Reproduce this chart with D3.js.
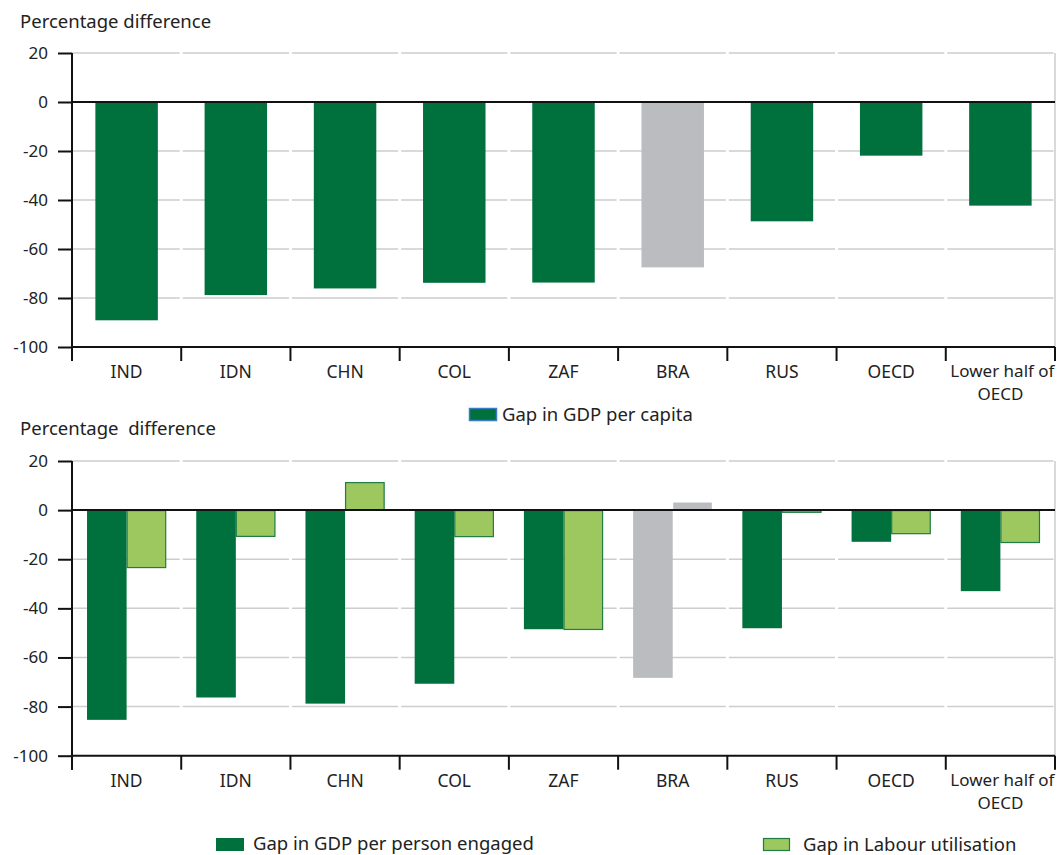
<!DOCTYPE html>
<html>
<head>
<meta charset="utf-8">
<script src="https://cdn.jsdelivr.net/npm/d3@7"></script>
<style>
  body { margin: 0; background: #fff; }
  svg { display: block; font-family: "Noto Sans", "Open Sans", sans-serif; }
</style>
</head>
<body>
<svg id="chart" width="1063" height="855"></svg>
<script>
// ---- Data ----
const categories = ["IND", "IDN", "CHN", "COL", "ZAF", "BRA", "RUS", "OECD", "Lower half of OECD"];
const highlighted = ["BRA"];
const gdpPerCapita = [-89.1, -78.8, -76.1, -73.8, -73.7, -67.5, -48.7, -21.9, -42.3];
const gdpPerPersonEngaged = [-85.4, -76.3, -78.8, -70.7, -48.5, -68.3, -48.1, -12.9, -33.0];
const labourUtilisation = [-23.6, -10.9, 11.4, -11.0, -48.8, 3.1, -1.1, -9.8, -13.4];
const yTicks = [20, 0, -20, -40, -60, -80, -100];
const yDomain = [-100, 20];
const yTitleTop = "Percentage difference";
const yTitleBottom = "Percentage\u00a0 difference";
const legendTop = ["Gap in GDP per capita"];
const legendBottom = ["Gap in GDP per person engaged", "Gap in Labour utilisation"];

// ---- Styles ----
const DARK = "#00703c", LIGHT = "#9dc75f", GRAY = "#bbbcc0", LIGHT_GRAY = "#bbbcc0";
const TXT = "#222";
const svg = d3.select("#chart");
const left = 72, right = 1055;

const x = d3.scaleBand().domain(categories).range([left, right]).padding(0);

function drawFrame(g, y) {
  yTicks.filter(t => t !== 0 && t !== yDomain[0]).forEach(t => {
    g.selectAll(null).data(categories).enter().append("line")
      .attr("x1", d => x(d) + (d === categories[0] ? 0 : 1.5))
      .attr("x2", d => x(d) + x.bandwidth() - 1.5)
      .attr("y1", y(t)).attr("y2", y(t))
      .attr("stroke", "#cdcdcd").attr("stroke-width", 1.5);
  });
  g.append("line").attr("x1", right).attr("x2", right)
    .attr("y1", y(yDomain[1])).attr("y2", y(yDomain[0]))
    .attr("stroke", "#cdcdcd").attr("stroke-width", 1.5);
}

function drawAxes(g, y) {
  g.append("line").attr("x1", left).attr("x2", right)
    .attr("y1", y(0)).attr("y2", y(0))
    .attr("stroke", "#111").attr("stroke-width", 2);
  const ya = g.append("g").attr("transform", `translate(${left},0)`)
    .call(d3.axisLeft(y).tickValues(yTicks).tickSize(14).tickPadding(10).tickFormat(d3.format("d")));
  ya.select(".domain").attr("stroke", "#111").attr("stroke-width", 2)
    .attr("d", `M0,${y(yDomain[1])}V${y(yDomain[0]) + 14}`);
  ya.selectAll(".tick line").attr("stroke", "#111").attr("stroke-width", 2);
  ya.selectAll(".tick text").attr("font-size", 17).attr("fill", TXT)
    .attr("font-family", "'Noto Sans', sans-serif").text(d => d < 0 ? "-" + Math.abs(d) : d);
  const yb = y(yDomain[0]);
  g.append("line").attr("x1", left).attr("x2", right).attr("y1", yb).attr("y2", yb)
    .attr("stroke", "#111").attr("stroke-width", 2);
  const bounds = categories.map(c => x(c)).concat([right]);
  g.selectAll(null).data(bounds).enter().append("line")
    .attr("x1", d => d).attr("x2", d => d).attr("y1", yb).attr("y2", yb + 14)
    .attr("stroke", "#111").attr("stroke-width", 2);
  categories.forEach(d => {
    const cx = x(d) + x.bandwidth() / 2;
    if (d === "Lower half of OECD") {
      g.append("text").attr("x", cx + 2).attr("y", yb + 30)
        .attr("text-anchor", "middle").attr("font-size", 17).attr("fill", TXT).text("Lower half of");
      g.append("text").attr("x", cx).attr("y", yb + 53)
        .attr("text-anchor", "middle").attr("font-size", 17).attr("fill", TXT).text("OECD");
    } else {
      g.append("text").attr("x", cx).attr("y", yb + 31)
        .attr("text-anchor", "middle").attr("font-size", 17.5).attr("fill", TXT).text(d);
    }
  });
}

// ---- Top panel ----
const yTop = d3.scaleLinear().domain(yDomain).range([347, 53]);
const gTop = svg.append("g");
svg.append("text").attr("x", 20).attr("y", 28).attr("font-size", 18.5).attr("fill", TXT).text(yTitleTop);
drawFrame(gTop, yTop);
const barW = x.bandwidth() * 0.572;
gTop.selectAll(".bar").data(categories.map((c, i) => ({c, v: gdpPerCapita[i]}))).enter().append("rect")
  .attr("x", d => x(d.c) + (x.bandwidth() - barW) / 2)
  .attr("width", barW)
  .attr("y", d => yTop(Math.max(0, d.v)))
  .attr("height", d => Math.abs(yTop(d.v) - yTop(0)))
  .attr("fill", d => highlighted.includes(d.c) ? GRAY : DARK);
drawAxes(gTop, yTop);

svg.append("rect").attr("x", 469.5).attr("y", 408.5).attr("width", 27).attr("height", 12)
  .attr("fill", DARK).attr("stroke", "#3b7dc4").attr("stroke-width", 1.5);
svg.append("text").attr("x", 502).attr("y", 421).attr("font-size", 18.5).attr("fill", TXT).text(legendTop[0]);

// ---- Bottom panel ----
const yBot = d3.scaleLinear().domain(yDomain).range([755.7, 461]);
const gBot = svg.append("g");
svg.append("text").attr("x", 20).attr("y", 435).attr("font-size", 18.5).attr("fill", TXT).text(yTitleBottom);
drawFrame(gBot, yBot);
const series = ["person", "labour"];
const groupW = x.bandwidth() * 0.725;
const x1 = d3.scaleBand().domain(series).range([0, groupW]).padding(0);
const rows = [];
categories.forEach((c, i) => {
  rows.push({c, s: "person", v: gdpPerPersonEngaged[i]});
  rows.push({c, s: "labour", v: labourUtilisation[i]});
});
gBot.selectAll(".bar").data(rows).enter().append("rect")
  .attr("x", d => x(d.c) + (x.bandwidth() - groupW) / 2 + x1(d.s) + (d.s === "labour" ? 0.5 : 0))
  .attr("width", d => x1.bandwidth() - (d.s === "labour" ? 1 : 0))
  .attr("y", d => yBot(Math.max(0, d.v)) + (d.s === "labour" && !highlighted.includes(d.c) ? 0.5 : 0))
  .attr("height", d => Math.max(0.5, Math.abs(yBot(d.v) - yBot(0)) - (d.s === "labour" && !highlighted.includes(d.c) ? 1 : 0)))
  .attr("fill", d => highlighted.includes(d.c) ? (d.s === "person" ? GRAY : LIGHT_GRAY) : (d.s === "person" ? DARK : LIGHT))
  .attr("stroke", d => (d.s === "labour" && !highlighted.includes(d.c)) ? "#1f7d45" : "none")
  .attr("stroke-width", 1.2);
drawAxes(gBot, yBot);

svg.append("rect").attr("x", 216).attr("y", 838).attr("width", 28).attr("height", 13).attr("fill", DARK);
svg.append("text").attr("x", 253).attr("y", 850).attr("font-size", 18.5).attr("fill", TXT).text(legendBottom[0]);
svg.append("rect").attr("x", 763.5).attr("y", 838.5).attr("width", 26).attr("height", 12)
  .attr("fill", LIGHT).attr("stroke", "#1f7d45").attr("stroke-width", 1.2);
svg.append("text").attr("x", 803).attr("y", 851).attr("font-size", 18.5).attr("fill", TXT).text(legendBottom[1]);
</script>
</body>
</html>
